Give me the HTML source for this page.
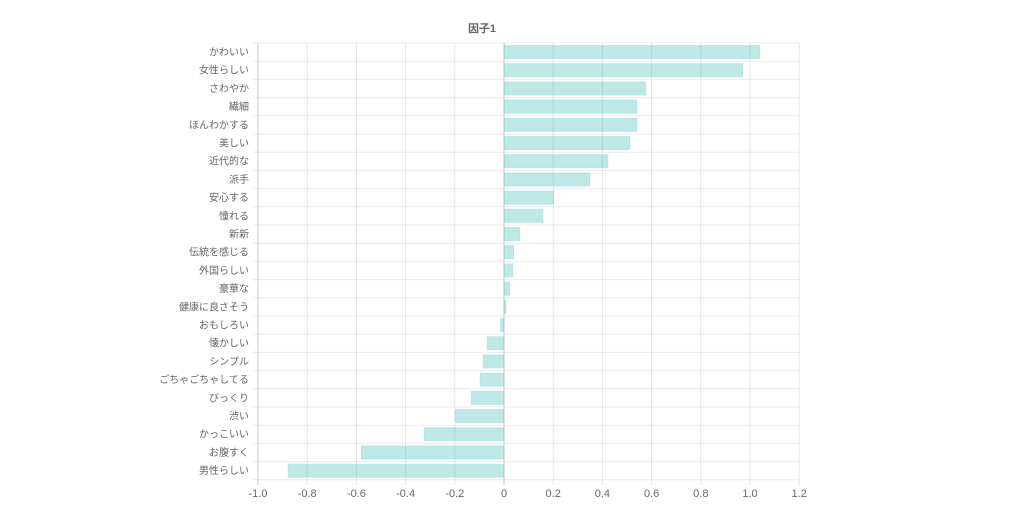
<!DOCTYPE html>
<html><head><meta charset="utf-8"><style>
html,body{margin:0;padding:0;background:#fff;}
text{font-family:"Liberation Sans","Noto Sans CJK JP",sans-serif;font-size:11px;fill:#666;}
.lb text{font-size:10px;}
</style></head><body>
<svg width="1024" height="511" xmlns="http://www.w3.org/2000/svg">
<text x="482" y="32" font-weight="bold" text-anchor="middle">因子1</text>
<g stroke="rgba(0,0,0,0.08)" stroke-width="1">
<line x1="253" x2="799" y1="43" y2="43"/><line x1="253" x2="799" y1="61.2" y2="61.2"/><line x1="253" x2="799" y1="79.4" y2="79.4"/><line x1="253" x2="799" y1="97.6" y2="97.6"/><line x1="253" x2="799" y1="115.8" y2="115.8"/><line x1="253" x2="799" y1="134" y2="134"/><line x1="253" x2="799" y1="152.2" y2="152.2"/><line x1="253" x2="799" y1="170.4" y2="170.4"/><line x1="253" x2="799" y1="188.6" y2="188.6"/><line x1="253" x2="799" y1="206.8" y2="206.8"/><line x1="253" x2="799" y1="225" y2="225"/><line x1="253" x2="799" y1="243.2" y2="243.2"/><line x1="253" x2="799" y1="261.4" y2="261.4"/><line x1="253" x2="799" y1="279.6" y2="279.6"/><line x1="253" x2="799" y1="297.8" y2="297.8"/><line x1="253" x2="799" y1="316" y2="316"/><line x1="253" x2="799" y1="334.2" y2="334.2"/><line x1="253" x2="799" y1="352.4" y2="352.4"/><line x1="253" x2="799" y1="370.6" y2="370.6"/><line x1="253" x2="799" y1="388.8" y2="388.8"/><line x1="253" x2="799" y1="407" y2="407"/><line x1="253" x2="799" y1="425.2" y2="425.2"/><line x1="253" x2="799" y1="443.4" y2="443.4"/><line x1="253" x2="799" y1="461.6" y2="461.6"/><line x1="253" x2="799" y1="479.8" y2="479.8"/>
</g>
<g stroke="rgba(0,0,0,0.1)" stroke-width="1">
<line x1="307.2" x2="307.2" y1="43" y2="485"/><line x1="356.4" x2="356.4" y1="43" y2="485"/><line x1="405.6" x2="405.6" y1="43" y2="485"/><line x1="454.8" x2="454.8" y1="43" y2="485"/><line x1="553.2" x2="553.2" y1="43" y2="485"/><line x1="602.4" x2="602.4" y1="43" y2="485"/><line x1="651.6" x2="651.6" y1="43" y2="485"/><line x1="700.8" x2="700.8" y1="43" y2="485"/><line x1="750" x2="750" y1="43" y2="485"/><line x1="799.2" x2="799.2" y1="43" y2="485"/>
</g>
<g stroke="rgba(0,0,0,0.22)" stroke-width="1">
<line x1="258" x2="258" y1="43" y2="485"/><line x1="504" x2="504" y1="43" y2="485"/>
</g>
<g fill="rgba(75,192,192,0.36)" stroke="rgba(75,192,192,0.15)">
<rect x="504" y="45.3" width="256" height="13.5"/>
<rect x="504" y="63.5" width="239" height="13.5"/>
<rect x="504" y="81.7" width="142" height="13.5"/>
<rect x="504" y="99.9" width="133" height="13.5"/>
<rect x="504" y="118.1" width="133" height="13.5"/>
<rect x="504" y="136.3" width="126" height="13.5"/>
<rect x="504" y="154.5" width="104" height="13.5"/>
<rect x="504" y="172.7" width="86" height="13.5"/>
<rect x="504" y="190.9" width="50" height="13.5"/>
<rect x="504" y="209.1" width="39" height="13.5"/>
<rect x="504" y="227.3" width="16" height="13.5"/>
<rect x="504" y="245.5" width="10" height="13.5"/>
<rect x="504" y="263.7" width="9" height="13.5"/>
<rect x="504" y="281.9" width="6" height="13.5"/>
<rect x="504" y="300.1" width="2" height="13.5"/>
<rect x="500.5" y="318.3" width="3.5" height="13.5"/>
<rect x="487" y="336.5" width="17" height="13.5"/>
<rect x="483" y="354.7" width="21" height="13.5"/>
<rect x="480" y="372.9" width="24" height="13.5"/>
<rect x="471" y="391.1" width="33" height="13.5"/>
<rect x="455" y="409.3" width="49" height="13.5"/>
<rect x="424" y="427.5" width="80" height="13.5"/>
<rect x="361" y="445.7" width="143" height="13.5"/>
<rect x="288" y="463.9" width="216" height="13.5"/>
</g>
<g text-anchor="end" class="lb">
<text x="249" y="55.5">かわいい</text>
<text x="249" y="73.7">女性らしい</text>
<text x="249" y="91.9">さわやか</text>
<text x="249" y="110.1">繊細</text>
<text x="249" y="128.3">ほんわかする</text>
<text x="249" y="146.5">美しい</text>
<text x="249" y="164.7">近代的な</text>
<text x="249" y="182.9">派手</text>
<text x="249" y="201.1">安心する</text>
<text x="249" y="219.3">憧れる</text>
<text x="249" y="237.5">新新</text>
<text x="249" y="255.7">伝統を感じる</text>
<text x="249" y="273.9">外国らしい</text>
<text x="249" y="292.1">豪華な</text>
<text x="249" y="310.3">健康に良さそう</text>
<text x="249" y="328.5">おもしろい</text>
<text x="249" y="346.7">懐かしい</text>
<text x="249" y="364.9">シンプル</text>
<text x="249" y="383.1">ごちゃごちゃしてる</text>
<text x="249" y="401.3">びっくり</text>
<text x="249" y="419.5">渋い</text>
<text x="249" y="437.7">かっこいい</text>
<text x="249" y="455.9">お腹すく</text>
<text x="249" y="474.1">男性らしい</text>
</g>
<g text-anchor="middle">
<text x="258" y="497">-1.0</text><text x="307.2" y="497">-0.8</text><text x="356.4" y="497">-0.6</text><text x="405.6" y="497">-0.4</text><text x="454.8" y="497">-0.2</text><text x="504" y="497">0</text><text x="553.2" y="497">0.2</text><text x="602.4" y="497">0.4</text><text x="651.6" y="497">0.6</text><text x="700.8" y="497">0.8</text><text x="750" y="497">1.0</text><text x="799.2" y="497">1.2</text>
</g>
</svg>
</body></html>
